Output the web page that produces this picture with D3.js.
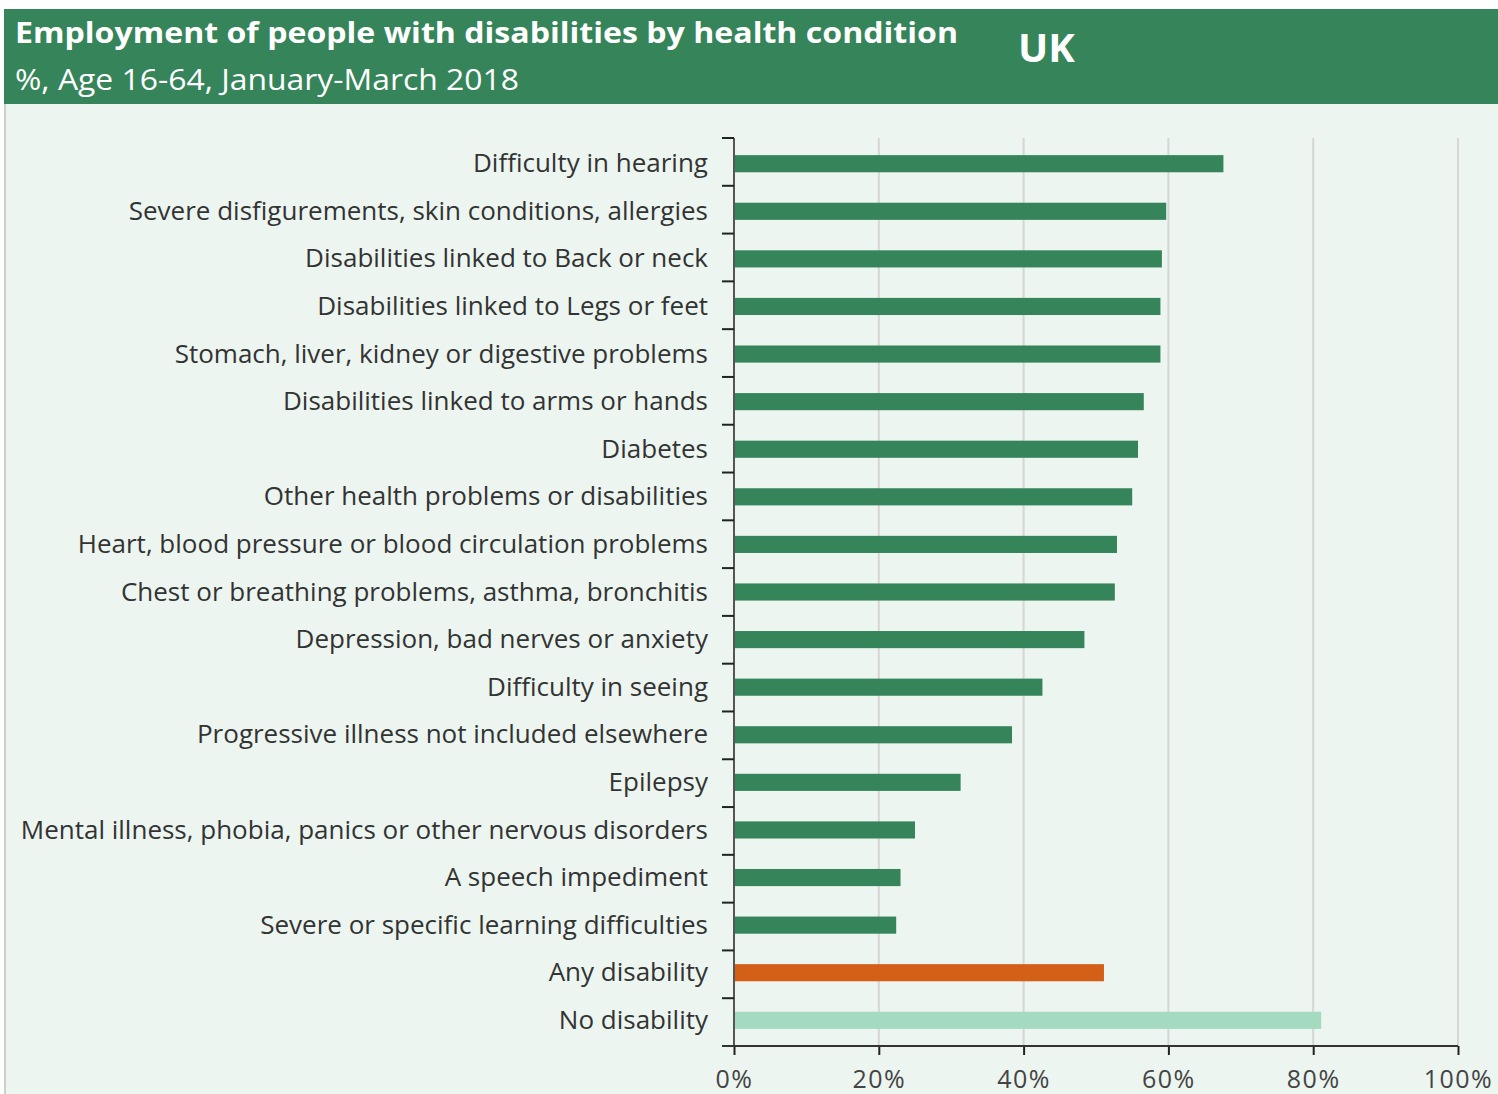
<!DOCTYPE html>
<html>
<head>
<meta charset="utf-8">
<script src="https://cdn.jsdelivr.net/npm/d3@7"></script>
<style>
  body { margin: 0; background: #ffffff; }
  svg { display: block; }
  .tick-label { font-family: "Open Sans", sans-serif; fill: #333333; }
</style>
</head>
<body>
<div id="vis"></div>
<script>
// frame constants
const FRAME_WIDTH = 1498;
const FRAME_HEIGHT = 1094;
const MARGINS = {left: 734, right: 40, top: 138, bottom: 48};

// data
const CATEGORIES = [
  "Difficulty in hearing",
  "Severe disfigurements, skin conditions, allergies",
  "Disabilities linked to Back or neck",
  "Disabilities linked to Legs or feet",
  "Stomach, liver, kidney or digestive problems",
  "Disabilities linked to arms or hands",
  "Diabetes",
  "Other health problems or disabilities",
  "Heart, blood pressure or blood circulation problems",
  "Chest or breathing problems, asthma, bronchitis",
  "Depression, bad nerves or anxiety",
  "Difficulty in seeing",
  "Progressive illness not included elsewhere",
  "Epilepsy",
  "Mental illness, phobia, panics or other nervous disorders",
  "A speech impediment",
  "Severe or specific learning difficulties",
  "Any disability",
  "No disability"
];
const VALUES = [67.6, 59.7, 59.1, 58.9, 58.9, 56.6, 55.8, 55.0, 52.9, 52.6,
                48.4, 42.6, 38.4, 31.3, 25.0, 23.0, 22.4, 51.1, 81.1];
const X_TICKS = [0, 20, 40, 60, 80, 100];

const TITLE = "Employment of people with disabilities by health condition";
const SUBTITLE = "%, Age 16-64, January-March 2018";
const REGION = "UK";

const DATA = CATEGORIES.map((c, i) => ({category: c, value: VALUES[i]}));

const FRAME = d3.select("#vis")
  .append("svg")
    .attr("width", FRAME_WIDTH)
    .attr("height", FRAME_HEIGHT);

// plot background and left border
FRAME.append("rect")
  .attr("x", 5).attr("y", 104)
  .attr("width", FRAME_WIDTH - 5).attr("height", FRAME_HEIGHT - 104)
  .attr("fill", "#ecf5f0");
FRAME.append("line")
  .attr("x1", 5).attr("x2", 5).attr("y1", 104).attr("y2", FRAME_HEIGHT)
  .attr("stroke", "#cfcfcf").attr("stroke-width", 2);

// header band
FRAME.append("rect")
  .attr("x", 4).attr("y", 9)
  .attr("width", FRAME_WIDTH - 4).attr("height", 95)
  .attr("fill", "#35845a");

FRAME.append("text")
  .attr("x", 15).attr("y", 43)
  .attr("font-family", "Open Sans, sans-serif")
  .attr("font-weight", 700)
  .attr("font-size", 29)
  .attr("fill", "#ffffff")
  .attr("textLength", 943)
  .attr("lengthAdjust", "spacingAndGlyphs")
  .text(TITLE);

FRAME.append("text")
  .attr("x", 15).attr("y", 90)
  .attr("font-family", "Open Sans, sans-serif")
  .attr("font-size", 29)
  .attr("fill", "#ffffff")
  .attr("textLength", 504)
  .attr("lengthAdjust", "spacingAndGlyphs")
  .text(SUBTITLE);

FRAME.append("text")
  .attr("x", 1018).attr("y", 62)
  .attr("font-family", "Open Sans, sans-serif")
  .attr("font-weight", 700)
  .attr("font-size", 40)
  .attr("fill", "#ffffff")
  .text(REGION);

// scales
const X_SCALE = d3.scaleLinear()
  .domain([0, 100])
  .range([MARGINS.left, FRAME_WIDTH - MARGINS.right]);

const Y_SCALE = d3.scaleBand()
  .domain(CATEGORIES)
  .range([MARGINS.top, FRAME_HEIGHT - MARGINS.bottom])
  .paddingInner(0.64)
  .paddingOuter(0.36);

const Y_TOP = MARGINS.top;
const Y_BOTTOM = FRAME_HEIGHT - MARGINS.bottom;

// vertical gridlines
FRAME.selectAll(".grid")
  .data(X_TICKS.slice(1))
  .enter()
  .append("line")
    .attr("class", "grid")
    .attr("x1", (d) => X_SCALE(d)).attr("x2", (d) => X_SCALE(d))
    .attr("y1", Y_TOP).attr("y2", Y_BOTTOM)
    .attr("stroke", "#d6d6d6")
    .attr("stroke-width", 2);

// bars
FRAME.selectAll(".bar")
  .data(DATA)
  .enter()
  .append("rect")
    .attr("class", "bar")
    .attr("x", X_SCALE(0))
    .attr("y", (d) => Y_SCALE(d.category))
    .attr("width", (d) => X_SCALE(d.value) - X_SCALE(0))
    .attr("height", Y_SCALE.bandwidth())
    .attr("fill", (d) => d.category === "Any disability" ? "#d45f16"
                        : d.category === "No disability" ? "#a4dac0" : "#35845a");

// y axis: line plus ticks between categories
const STEP = (Y_BOTTOM - Y_TOP) / CATEGORIES.length;
const BOUNDS = d3.range(CATEGORIES.length + 1).map((i) => Y_TOP + i * STEP);

FRAME.append("line")
  .attr("x1", X_SCALE(0)).attr("x2", X_SCALE(0))
  .attr("y1", Y_TOP).attr("y2", Y_BOTTOM)
  .attr("stroke", "#555555").attr("stroke-width", 2);

FRAME.selectAll(".ytick")
  .data(BOUNDS)
  .enter()
  .append("line")
    .attr("class", "ytick")
    .attr("x1", X_SCALE(0) - 12).attr("x2", X_SCALE(0))
    .attr("y1", (d) => d).attr("y2", (d) => d)
    .attr("stroke", "#222222").attr("stroke-width", 2);

// category labels
FRAME.selectAll(".label")
  .data(CATEGORIES)
  .enter()
  .append("text")
    .attr("class", "tick-label")
    .attr("x", 708)
    .attr("y", (d) => Y_SCALE(d) + Y_SCALE.bandwidth() / 2)
    .attr("dy", "0.33em")
    .attr("text-anchor", "end")
    .attr("font-size", 26)
    .text((d) => d);

// x axis
const X_AXIS = FRAME.append("g")
  .attr("transform", "translate(0," + Y_BOTTOM + ")")
  .call(d3.axisBottom(X_SCALE).tickValues(X_TICKS).tickSize(9).tickFormat((d) => d + "%"));

X_AXIS.select(".domain").remove();
X_AXIS.append("line")
  .attr("x1", X_SCALE(0) - 12).attr("x2", X_SCALE(100))
  .attr("stroke", "#333333").attr("stroke-width", 2);
X_AXIS.selectAll(".tick line")
  .attr("stroke", "#222222").attr("stroke-width", 2);
X_AXIS.selectAll(".tick text")
  .attr("y", 24)
  .attr("font-family", "Open Sans, sans-serif")
  .attr("font-size", 25)
  .attr("letter-spacing", 1.5)
  .attr("fill", "#444444");
</script>
</body>
</html>
